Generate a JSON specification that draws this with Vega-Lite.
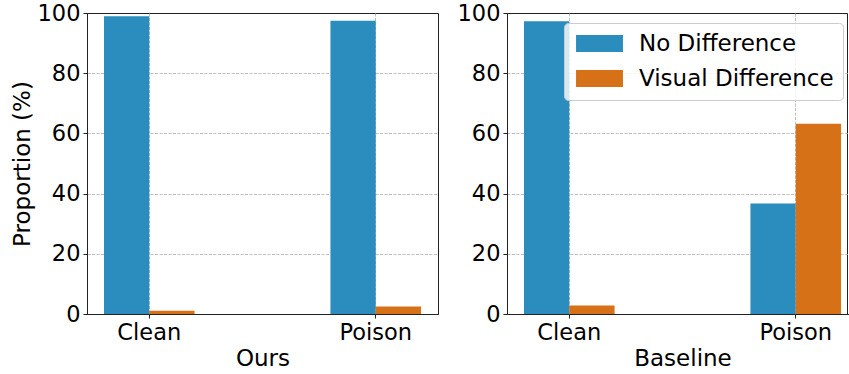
{
  "$schema": "https://vega.github.io/schema/vega-lite/v6.json",
  "autosize": {"type": "pad"},
  "padding": {"left": 10, "top": 1, "right": 0, "bottom": 0},
  "background": "white",
  "spacing": 69,
  "bounds": "flush",
  "data": {
    "values": [
      {"method": "Ours", "split": "Clean", "series": "No Difference", "value": 98.9},
      {"method": "Ours", "split": "Clean", "series": "Visual Difference", "value": 1.1},
      {"method": "Ours", "split": "Poison", "series": "No Difference", "value": 97.4},
      {"method": "Ours", "split": "Poison", "series": "Visual Difference", "value": 2.5},
      {"method": "Baseline", "split": "Clean", "series": "No Difference", "value": 97.3},
      {"method": "Baseline", "split": "Clean", "series": "Visual Difference", "value": 2.8},
      {"method": "Baseline", "split": "Poison", "series": "No Difference", "value": 36.7},
      {"method": "Baseline", "split": "Poison", "series": "Visual Difference", "value": 63.2}
    ]
  },
  "config": {
    "font": "DejaVu Sans",
    "view": {"stroke": "#222", "strokeWidth": 1},
    "axis": {
      "labelFont": "DejaVu Sans",
      "labelFontSize": 22.5,
      "labelColor": "#000",
      "titleFont": "DejaVu Sans",
      "titleFontSize": 23,
      "titleFontWeight": "normal",
      "titleColor": "#000",
      "tickColor": "#222",
      "tickSize": 4,
      "domainColor": "#222",
      "domainWidth": 1,
      "grid": true,
      "gridColor": "#b0b0b0",
      "gridDash": [3, 1.5],
      "gridWidth": 0.8,
      "zindex": 1,
      "labelPadding": 3
    },
    "axisX": {"bandPosition": 0.5, "labelAngle": 0, "titlePadding": 4},
    "axisY": {
      "titlePadding": 3,
      "gridOpacity": {"condition": {"test": "datum.value === 0 || datum.value === 100", "value": 0}, "value": 1}
    }
  },
  "hconcat": [
    {
      "width": 351,
      "height": 301,
      "transform": [{"filter": "datum.method === 'Ours'"}],
      "mark": {"type": "bar"},
      "encoding": {
        "x": {
          "field": "split", "type": "nominal",
          "scale": {"domain": ["Clean", "Poison"], "paddingInner": 0.6, "paddingOuter": 0.075},
          "axis": {"title": "Ours"}
        },
        "xOffset": {
          "field": "series", "type": "nominal",
          "scale": {"domain": ["No Difference", "Visual Difference"], "paddingInner": 0, "paddingOuter": 0}
        },
        "y": {
          "field": "value", "type": "quantitative",
          "scale": {"domain": [0, 100], "nice": false},
          "axis": {"title": "Proportion (%)", "values": [0, 20, 40, 60, 80, 100]}
        },
        "color": {
          "field": "series", "type": "nominal",
          "scale": {"domain": ["No Difference", "Visual Difference"], "range": ["#2b8cbe", "#d67117"]},
          "legend": {
            "orient": "none", "legendX": 477, "legendY": 10, "title": null,
            "symbolType": "M-2.76,-1L2.76,-1L2.76,1L-2.76,1Z",
            "symbolSize": 289, "symbolStrokeWidth": 0, "symbolOpacity": 1, "symbolOffset": 15,
            "labelFont": "DejaVu Sans", "labelFontSize": 23, "labelColor": "#000", "labelLimit": 400,
            "labelOffset": 28, "padding": 9, "rowPadding": 11,
            "cornerRadius": 4, "strokeColor": "#cccccc", "fillColor": "rgba(255,255,255,0.8)"
          }
        }
      }
    },
    {
      "width": 340,
      "height": 301,
      "transform": [{"filter": "datum.method === 'Baseline'"}],
      "mark": {"type": "bar"},
      "encoding": {
        "x": {
          "field": "split", "type": "nominal",
          "scale": {"domain": ["Clean", "Poison"], "paddingInner": 0.6, "paddingOuter": 0.075, "range": [0, 351]},
          "axis": {"title": "Baseline"}
        },
        "xOffset": {
          "field": "series", "type": "nominal",
          "scale": {"domain": ["No Difference", "Visual Difference"], "paddingInner": 0, "paddingOuter": 0}
        },
        "y": {
          "field": "value", "type": "quantitative",
          "scale": {"domain": [0, 100], "nice": false},
          "axis": {"title": null, "values": [0, 20, 40, 60, 80, 100]}
        },
        "color": {
          "field": "series", "type": "nominal",
          "scale": {"domain": ["No Difference", "Visual Difference"], "range": ["#2b8cbe", "#d67117"]},
          "legend": {
            "orient": "none", "legendX": 477, "legendY": 10, "title": null,
            "symbolType": "M-2.76,-1L2.76,-1L2.76,1L-2.76,1Z",
            "symbolSize": 289, "symbolStrokeWidth": 0, "symbolOpacity": 1, "symbolOffset": 15,
            "labelFont": "DejaVu Sans", "labelFontSize": 23, "labelColor": "#000", "labelLimit": 400,
            "labelOffset": 28, "padding": 9, "rowPadding": 11,
            "cornerRadius": 4, "strokeColor": "#cccccc", "fillColor": "rgba(255,255,255,0.8)"
          }
        }
      }
    }
  ]
}
